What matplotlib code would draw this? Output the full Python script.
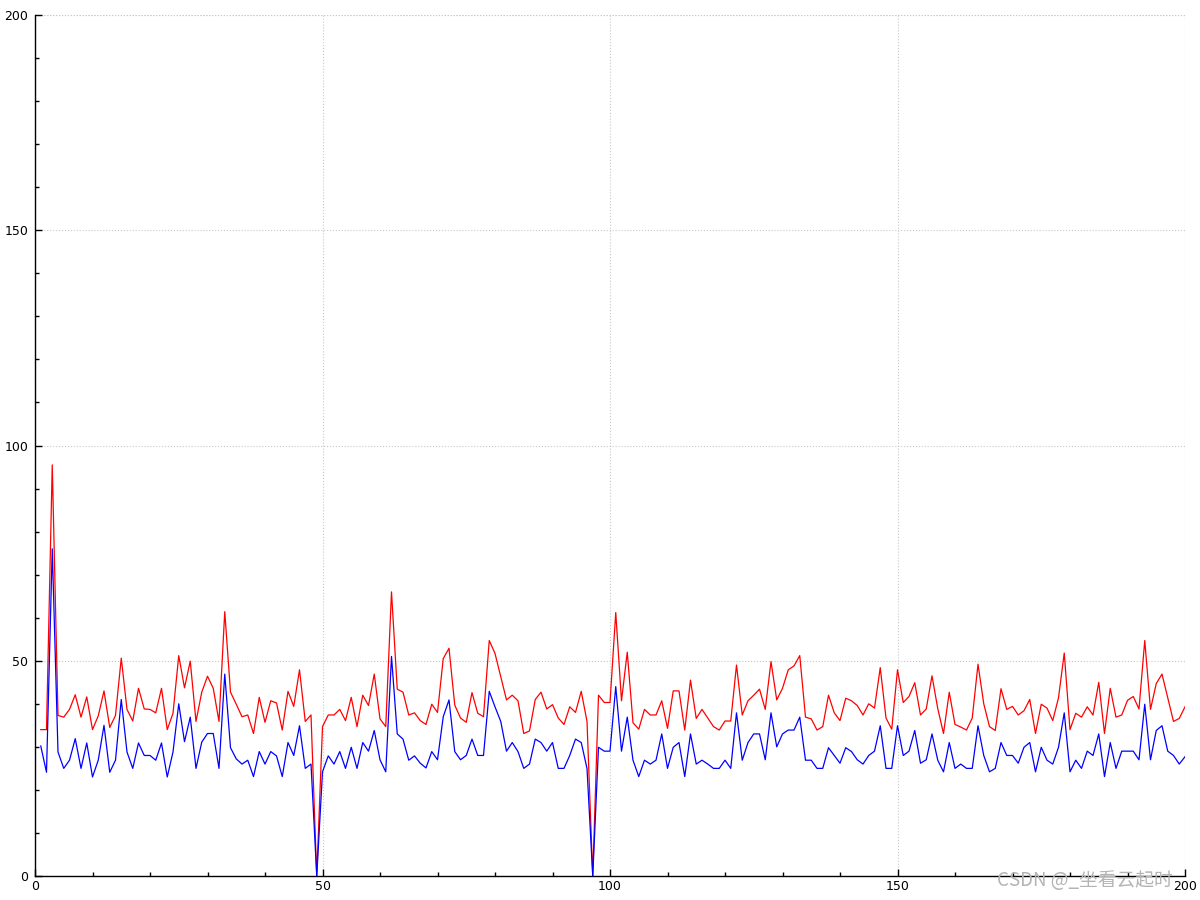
import numpy as np
import matplotlib
matplotlib.use("Agg")
from matplotlib import pyplot as plt
from matplotlib.ticker import MultipleLocator

x = np.arange(1, 201)

red = [34, 34, 95.5, 37.3, 36.9, 38.7, 42.1, 36.9, 41.6, 34, 37.2, 43, 34.5, 37.3, 50.6, 38.7, 36, 43.6, 38.8, 38.7, 37.9, 43.6, 34, 37.8, 51.2,
       43.7, 49.9, 35.9, 42.7, 46.4, 43.6, 35.9, 61.4, 42.7, 39.9, 37, 37.4, 33.1, 41.5, 35.7, 40.7, 40.2, 33.9, 42.9, 39.4, 47.9, 35.9, 37.4, 0, 34.7,
       37.4, 37.4, 38.7, 36.1, 41.5, 34.7, 42, 39.6, 46.9, 36.5, 34.7, 66, 43.4, 42.7, 37.4, 37.9, 36.1, 35.2, 39.9, 38, 50.5, 52.9, 39.7, 36.7, 35.7,
       42.6, 37.8, 37, 54.7, 51.7, 46.3, 40.9, 42, 40.7, 33.1, 33.7, 41, 42.7, 38.8, 39.8, 36.7, 35.2, 39.3, 38, 42.9, 35.9, 0, 42, 40.3, 40.3,
       61.2, 40.7, 52, 35.6, 34.1, 38.7, 37.4, 37.4, 40.7, 34.3, 43, 43, 33.9, 45.5, 36.6, 38.7, 36.7, 34.7, 33.9, 36, 36, 49, 37.4, 40.7, 42,
       43.4, 38.7, 49.8, 40.9, 43.6, 47.9, 48.8, 51.2, 36.9, 36.5, 33.9, 34.7, 42, 37.9, 36.1, 41.3, 40.7, 39.6, 37.4, 40, 39, 48.4, 36.7, 34.1, 47.9,
       40.3, 41.7, 44.9, 37.4, 38.8, 46.5, 38.9, 33.1, 42.7, 35.2, 34.6, 33.9, 36.7, 49.2, 40, 34.7, 33.8, 43.5, 38.7, 39.4, 37.4, 38.4, 41, 33.1, 39.9,
       39, 36.1, 41.4, 51.8, 34, 37.8, 36.9, 39.3, 37.4, 45, 33.1, 43.6, 36.9, 37.4, 40.8, 41.7, 38.8, 54.7, 38.7, 44.7, 46.9, 41.4, 35.9, 36.6, 39.3]

blue = [30.2, 24.1, 76, 28.8, 25, 26.9, 31.9, 25, 30.9, 23, 26.9, 35, 24.1, 26.9, 41, 28.8, 25, 30.9, 28, 28, 26.9, 30.9, 23, 28.8, 40,
        31.2, 36.9, 25, 31.1, 33.1, 33.1, 25, 46.9, 29.8, 27.2, 26, 26.9, 23.1, 28.9, 26, 28.9, 27.9, 23.1, 31, 28, 34.9, 25, 26, 0, 24.2,
        27.9, 26, 28.9, 25, 29.9, 25, 31, 29, 33.8, 27, 24.2, 51, 33, 31.8, 26.9, 27.9, 26.2, 25.1, 28.9, 27, 37, 40.9, 28.9, 27, 28,
        31.8, 28, 28, 42.9, 39.3, 35.9, 29, 31, 28.9, 25, 26, 31.8, 31, 29, 31, 25, 25, 28, 31.8, 31, 25, 0, 29.9, 29, 29,
        44, 29, 36.9, 26.9, 23.1, 26.9, 26, 26.9, 33, 25, 29.9, 31, 23.1, 33, 26, 26.9, 26, 25, 25, 26.9, 25, 37.9, 26.9, 31, 33,
        33, 27, 37.9, 30, 33, 33.9, 33.9, 36.9, 26.9, 26.9, 25, 25, 29.8, 28, 26.2, 29.8, 28.9, 27, 26, 28, 29, 34.9, 25, 25, 34.9,
        28, 29, 33.8, 26.2, 27, 33, 26.9, 24.2, 31, 25, 26, 25, 25, 34.9, 28, 24.2, 25, 31, 28, 28, 26.2, 29.9, 31, 24.2, 29.9,
        26.9, 26, 29.9, 37.9, 24.2, 26.9, 25, 29, 28, 33, 23.1, 31, 25, 29, 29, 29, 27, 39.9, 27, 33.8, 34.9, 29, 28, 26, 27.7]

fig = plt.figure(figsize=(12, 9), dpi=100)
ax = fig.add_axes([35 / 1200, 1 - 876 / 900, 1150 / 1200, 861 / 900])

ax.plot(x, red, color='#ff0000', lw=0.9)
ax.plot(x, blue, color='#0000ff', lw=0.9)

ax.set_xlim(0, 200)
ax.set_ylim(0, 200)
ax.xaxis.set_major_locator(MultipleLocator(50))
ax.xaxis.set_minor_locator(MultipleLocator(10))
ax.yaxis.set_major_locator(MultipleLocator(50))
ax.yaxis.set_minor_locator(MultipleLocator(10))

ax.spines['top'].set_visible(False)
ax.spines['right'].set_visible(False)
ax.spines['left'].set_linewidth(1.0)
ax.spines['bottom'].set_linewidth(1.0)

ax.tick_params(which='major', direction='in', length=5, width=1, labelsize=9, pad=3)
ax.tick_params(which='minor', direction='in', length=3, width=1)
ax.tick_params(axis='y', pad=5)

ax.grid(True, which='major', color='#c8c8c8', linestyle=':', linewidth=0.8)
ax.set_axisbelow(True)
# grid also drawn at the range ends
ax.axhline(200, color='#c8c8c8', linestyle=':', linewidth=0.8, zorder=0)
ax.axvline(200, color='#c8c8c8', linestyle=':', linewidth=0.8, zorder=0)

fig.text(1173 / 1200, 1 - 881 / 900, 'CSDN @_坐看云起时', ha='right', va='center', fontsize=13.5,
         color='#b4b4b4', family=['Noto Sans CJK SC', 'DejaVu Sans'])

fig.savefig('out.png', dpi=100)
